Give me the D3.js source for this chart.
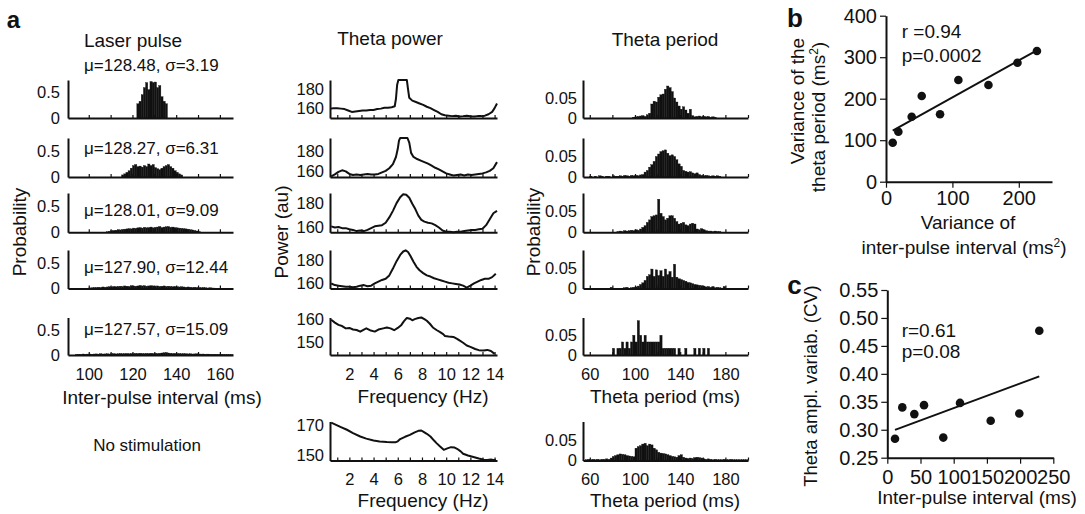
<!DOCTYPE html>
<html><head><meta charset="utf-8">
<script src="https://cdn.jsdelivr.net/npm/d3@7"></script>
<style>
body{margin:0;background:#fff;}
text{font-family:"Liberation Sans",Arial,sans-serif;fill:#111;}
</style></head><body>
<svg id="c" width="1085" height="514"></svg>
<script>
// ---------------- DATA ----------------
// Laser pulse inter-pulse-interval histograms (1 ms bins)
const laserStarts = [122, 115, 108, 100, 94];
const laser1 = [0.28,0.33,0.46,0.6,0.7,0.56,0.72,0.7,0.71,0.6,0.64,0.42,0.33,0.28];
const laser2 = [0.04,0.06,0.09,0.12,0.17,0.22,0.24,0.2,0.21,0.19,0.22,0.2,0.25,0.22,0.24,0.18,0.16,0.14,0.17,0.2,0.22,0.24,0.2,0.17,0.12,0.09,0.06,0.04];
const laser3 = [0.01,0.02,0.03,0.035,0.04,0.05,0.045,0.055,0.06,0.065,0.07,0.065,0.08,0.075,0.085,0.09,0.08,0.095,0.085,0.09,0.1,0.085,0.095,0.1,0.11,0.09,0.1,0.105,0.11,0.095,0.1,0.09,0.085,0.08,0.075,0.07,0.065,0.06,0.05,0.045,0.035,0.025,0.015];
const laser4 = [0.01,0.015,0.02,0.02,0.025,0.02,0.03,0.025,0.03,0.035,0.03,0.04,0.035,0.04,0.045,0.04,0.05,0.045,0.04,0.055,0.05,0.045,0.05,0.06,0.05,0.055,0.045,0.05,0.055,0.05,0.045,0.05,0.04,0.045,0.05,0.04,0.045,0.04,0.035,0.04,0.035,0.03,0.035,0.03,0.025,0.03,0.025,0.02,0.025,0.02,0.02,0.015,0.02,0.015,0.01,0.015,0.01,0.008];
const laser5 = [0.01,0.015,0.012,0.02,0.015,0.018,0.02,0.015,0.02,0.022,0.018,0.025,0.02,0.022,0.025,0.02,0.025,0.028,0.022,0.025,0.03,0.025,0.028,0.03,0.025,0.03,0.028,0.032,0.03,0.035,0.03,0.028,0.032,0.03,0.035,0.03,0.033,0.03,0.035,0.04,0.045,0.05,0.04,0.035,0.03,0.032,0.028,0.03,0.025,0.028,0.025,0.022,0.025,0.02,0.022,0.025,0.02,0.018,0.02,0.015,0.018,0.015,0.012,0.015,0.012,0.01,0.012,0.01,0.008,0.01,0.008,0.006];
const laserLabels = ["μ=128.48, σ=3.19","μ=128.27, σ=6.31","μ=128.01, σ=9.09","μ=127.90, σ=12.44","μ=127.57, σ=15.09"];

// Theta power spectra [frequency Hz, power au]
const power1 = [[0.4,159.5],[0.7,160],[1.0,160],[1.3,159.5],[1.6,159],[1.9,157.5],[2.2,156],[2.5,156.5],[2.8,157],[3.1,157.5],[3.4,157.5],[3.7,158],[4.0,158],[4.3,159],[4.6,159.5],[4.9,160.5],[5.2,160.5],[5.5,161],[5.75,162],[5.85,170],[5.95,185],[6.05,200],[6.75,200],[6.85,180],[6.95,171],[7.2,168],[7.5,166.5],[7.8,165],[8.1,163.5],[8.4,161.5],[8.7,160],[9.0,158],[9.3,156],[9.6,153.5],[9.9,152.5],[10.2,152],[10.5,151.5],[10.8,151.8],[11.1,151.2],[11.4,151.5],[11.7,152],[12.0,151.3],[12.3,151],[12.6,151.5],[12.9,151.5],[13.2,152],[13.5,153.5],[13.8,156],[14.0,160],[14.2,165]];
const power2 = [[0.5,155],[0.8,157],[1.1,159.5],[1.4,161],[1.7,160],[2.0,157.5],[2.3,156.5],[2.6,157],[2.9,156.5],[3.2,157],[3.5,157.5],[3.8,157],[4.1,157],[4.4,157.5],[4.7,159],[5.0,160.5],[5.3,163],[5.6,167],[5.85,174],[6.0,182],[6.1,190],[6.2,200],[6.8,200],[6.95,188],[7.1,178],[7.3,174],[7.6,172],[7.9,170.5],[8.2,169],[8.5,167.5],[8.8,165.5],[9.1,163.5],[9.4,162],[9.7,160],[10.0,158],[10.3,157],[10.6,156],[10.9,156.5],[11.2,157],[11.5,156],[11.8,157],[12.1,156.5],[12.4,157],[12.7,157.5],[13.0,158],[13.3,159],[13.6,160.5],[13.9,163],[14.2,169]];
const power3 = [[0.5,161],[0.8,160],[1.1,160.5],[1.4,159.5],[1.7,159.5],[2.0,158.5],[2.3,158],[2.6,157],[2.9,157.5],[3.2,157],[3.5,158],[3.8,159.5],[4.1,161],[4.4,161.5],[4.7,162],[5.0,164],[5.3,168.5],[5.6,174],[5.9,180.5],[6.2,185.5],[6.45,188],[6.7,187.5],[6.95,185],[7.2,180],[7.45,175.5],[7.7,170],[7.95,166.5],[8.2,165],[8.5,164],[8.8,163.5],[9.1,162],[9.4,160],[9.7,157.5],[10.0,156.5],[10.3,156.5],[10.6,156],[10.9,156.5],[11.2,156.5],[11.5,157],[11.8,157.5],[12.1,158],[12.4,158],[12.7,158.5],[13.0,159],[13.3,162],[13.6,167],[13.9,172],[14.2,174]];
const power4 = [[0.5,159.4],[0.8,158],[1.1,157.5],[1.4,157],[1.7,156.5],[2.0,156.5],[2.3,156],[2.6,156.5],[2.9,157.5],[3.2,158],[3.5,157],[3.8,157.5],[4.1,159.5],[4.4,161],[4.7,162.5],[5.0,163.5],[5.3,166.5],[5.6,172.5],[5.9,179],[6.2,184.5],[6.45,187.5],[6.65,188.5],[6.85,187],[7.05,183.5],[7.3,178.5],[7.55,174],[7.8,171],[8.1,168.5],[8.4,166.5],[8.7,165.5],[9.0,164],[9.3,163],[9.6,162],[9.9,161],[10.2,160],[10.5,159.5],[10.8,159],[11.1,158.5],[11.4,157.5],[11.7,155.8],[12.0,157.5],[12.3,159.5],[12.6,161],[12.9,162.5],[13.2,163.5],[13.5,163.5],[13.8,165],[14.1,168]];
const power5 = [[0.5,159.7],[0.8,158.5],[1.1,157.5],[1.4,157],[1.7,156],[2.0,156.2],[2.3,155.5],[2.6,155.3],[2.9,154.6],[3.2,155.5],[3.4,156],[3.7,155.2],[4.1,154.6],[4.4,155.5],[4.8,156],[5.1,156.4],[5.4,156],[5.7,155.2],[6.0,156.2],[6.3,157.5],[6.5,159],[6.75,160.5],[7.0,160.2],[7.2,159.5],[7.4,160],[7.7,160.5],[7.95,160.7],[8.2,160],[8.4,159.3],[8.65,158],[8.9,156.4],[9.2,155.3],[9.5,154.4],[9.75,153.5],[9.9,152.7],[10.2,152.5],[10.6,152.3],[10.9,151.5],[11.1,150.8],[11.4,149.8],[11.7,148.6],[12.0,148],[12.4,147.1],[12.7,146.6],[13.1,146.4],[13.4,146.7],[13.7,146.2],[14.0,145]];
const power6 = [[0.5,171.5],[0.9,170],[1.3,168.5],[1.8,166.7],[2.3,164.5],[2.9,162.2],[3.4,160.8],[4.0,159.5],[4.5,158.8],[5.1,158.5],[5.5,158.4],[5.8,158.3],[6.0,159],[6.2,160.5],[6.6,162],[7.0,163.3],[7.4,165],[7.7,166],[7.95,166.2],[8.1,165.5],[8.4,164],[8.7,162.2],[9.0,159.5],[9.2,157.8],[9.5,155.5],[9.8,153.3],[10.1,154.3],[10.4,155.1],[10.7,154.8],[10.9,154],[11.2,152.3],[11.4,150.7],[11.8,149.5],[12.25,148.5],[12.7,147.5],[13.1,146.7],[13.4,146.5],[13.7,146.8],[13.9,146.6],[14.1,146.5]];
const powerDomains = [[149.5,190],[154.5,192.5],[156,189],[155,188.8],[144.5,160.7],[146.2,172.2]];
const powerTicks = [[160,180],[160,180],[160,180],[160,180],[150,160],[150,170]];

// Theta period histograms (2 ms bins)
const periodStarts = [98, 60, 84, 76, 80, 56];
const period1 = [0.002,0.003,0.004,0.005,0.006,0.004,0.008,0.012,0.035,0.042,0.04,0.052,0.058,0.06,0.072,0.08,0.076,0.066,0.05,0.04,0.03,0.022,0.028,0.02,0.012,0.022,0.006,0.003,0.004,0.005,0.003,0.004,0.003,0.004,0.002,0.003,0.002];
const period2 = [0.002,0,0.002,0,0.003,0.002,0,0.002,0.002,0,0.003,0.002,0.002,0.003,0.002,0.004,0.003,0.002,0.004,0.003,0.004,0.003,0.005,0.006,0.012,0.016,0.024,0.03,0.038,0.05,0.056,0.062,0.064,0.066,0.058,0.052,0.054,0.05,0.042,0.032,0.026,0.016,0.014,0.012,0.013,0.01,0.008,0.01,0.006,0.004,0.003,0.004,0.003,0.002,0.003,0.002,0.003,0.002];
const period3 = [0.002,0.003,0.002,0.004,0.003,0.004,0.005,0.004,0.006,0.005,0.008,0.012,0.016,0.024,0.03,0.038,0.04,0.042,0.08,0.046,0.038,0.03,0.034,0.04,0.04,0.034,0.026,0.02,0.022,0.024,0.018,0.016,0.02,0.022,0.02,0.008,0.006,0.009,0.006,0.004,0.003,0.003,0.002,0.003,0.002,0.002];
const period4 = [0,0.003,0,0,0,0,0,0.002,0.003,0,0.002,0.003,0.004,0.006,0.01,0.014,0.02,0.03,0.034,0.048,0.03,0.046,0.032,0.044,0.03,0.048,0.034,0.042,0.028,0.06,0.028,0.024,0.022,0.02,0.018,0.015,0.014,0.012,0.01,0.009,0.008,0.007,0.006,0.004,0.005,0.003,0.005,0.002,0.003,0.002,0.001,0.005];
const period5 = [0.017,0,0.017,0.017,0.033,0.017,0.033,0.017,0.033,0.05,0.033,0.087,0.05,0.033,0.05,0.033,0.033,0.033,0.033,0.033,0.033,0.05,0.017,0.017,0.017,0.017,0.017,0.017,0,0.017,0,0,0.017,0,0,0,0.017,0,0.017,0,0.017,0,0.017];
const period6 = [0.002,0.003,0.002,0.003,0.002,0.003,0.002,0.003,0.003,0.004,0.003,0.006,0.01,0.012,0.014,0.016,0.015,0.014,0.012,0.011,0.01,0.009,0.03,0.034,0.036,0.04,0.042,0.036,0.04,0.038,0.03,0.026,0.02,0.018,0.017,0.016,0.014,0.012,0.01,0.009,0.008,0.012,0.014,0.008,0.006,0.005,0.006,0.005,0.007,0.008,0.007,0.006,0.004,0.003,0.004,0.003,0.002,0.003,0.002,0.002,0.002,0.003,0.002,0.002,0.003,0.002,0.002,0.002,0.002,0.002,0.002,0.002];

// Panel b and c scatter data
const bX = [10.1, 18.6, 38.7, 53.8, 81.4, 109, 154.3, 198, 227.3];
const bY = [94, 120.5, 156.6, 206.5, 162.4, 245, 233, 286.7, 315];
const cX = [11.6, 22.6, 40.7, 55.3, 84.3, 109.5, 155.7, 198.8, 228.9];
const cY = [0.284, 0.34, 0.328, 0.344, 0.286, 0.348, 0.316, 0.329, 0.477];
const bTicksX = [0, 100, 200], bTicksY = [0, 100, 200, 300, 400];
const cTicksX = [0, 50, 100, 150, 200, 250], cTicksY = [0.25, 0.30, 0.35, 0.40, 0.45, 0.50, 0.55];

// ---------------- DRAWING ----------------
const svg = d3.select('#c');
const INK = '#111';
const FONT_TICK = '16.5px';
const rows = [{top:80,base:118},{top:138,base:177},{top:193,base:232.3},{top:250,base:288.5},{top:317.5,base:355},{top:421.5,base:460.5}];

function styleAxis(g, fs){
  g.select('.domain').attr('stroke', INK).attr('stroke-width', 2);
  g.selectAll('.tick line').attr('stroke', INK).attr('stroke-width', 1.2);
  g.selectAll('.tick text').style('font-size', fs).attr('fill', INK)
   .style('font-family','"Liberation Sans",Arial,sans-serif');
}

function smallPanel(cfg){
  const x = d3.scaleLinear().domain(cfg.xd).range([cfg.left, cfg.right]);
  const y = d3.scaleLinear().domain(cfg.yd).range([cfg.base, cfg.top]).clamp(true);
  const g = svg.append('g');
  return {x, y, g, cfg};
}
function panelAxes(p){
  const c = p.cfg;
  const xa = d3.axisBottom(p.x).tickValues(c.xt).tickSize(-3).tickSizeOuter(0).tickPadding(13)
    .tickFormat(d => (c.showX && c.xl.includes(d)) ? d : '');
  const gx = p.g.append('g').attr('transform', `translate(0,${c.base})`).call(xa);
  styleAxis(gx, FONT_TICK);
  const ya = d3.axisLeft(p.y).tickValues(c.yt).tickSize(0).tickSizeOuter(0).tickPadding(c.ypad)
    .tickFormat(d => String(d));
  const gy = p.g.append('g').attr('transform', `translate(${c.left},0)`).call(ya);
  styleAxis(gy, FONT_TICK);
}
function bars(p, start, w, vals){
  p.g.append('g').selectAll('rect').data(vals).join('rect')
    .attr('x', (d,i) => p.x(start + i*w))
    .attr('width', (d,i) => p.x(start + (i+1)*w) - p.x(start + i*w))
    .attr('y', d => p.y(d))
    .attr('height', d => p.y(0) - p.y(d))
    .attr('fill', INK).attr('stroke', INK).attr('stroke-width', 0.35);
}

// Column 1: laser pulse
const laserData = [laser1, laser2, laser3, laser4, laser5];
laserData.forEach((vals, i) => {
  const r = rows[i];
  const p = smallPanel({left:68, right:233, top:r.top, base:r.base, xd:[90.5,166], yd:[0,0.75],
    xt:d3.range(100,161,10), xl:[100,120,140,160], showX: i===4, yt:[0,0.5], ypad:8});
  bars(p, laserStarts[i], 1, vals);
  panelAxes(p);
  p.g.append('text').attr('x', 84).attr('y', [65,148.5,210.5,267.5,329][i]).attr('dy','0.35em')
    .style('font-size','17px').text(laserLabels[i]);
});

// Column 2: theta power
const powerData = [power1, power2, power3, power4, power5, power6];
powerData.forEach((pts, i) => {
  const r = rows[i];
  const p = smallPanel({left:330, right:497, top:r.top, base:r.base, xd:[0.4,14.2], yd:powerDomains[i],
    xt:d3.range(1,15,1), xl:[2,4,6,8,10,12,14], showX: i>=4, yt:powerTicks[i], ypad:6});
  const line = d3.line().x(d => p.x(d[0])).y(d => p.y(d[1])).curve(d3.curveLinear);
  p.g.append('path').datum(pts).attr('d', line).attr('fill','none').attr('stroke', INK)
    .attr('stroke-width', 2).attr('stroke-linejoin','round');
  panelAxes(p);
});

// Column 3: theta period
const periodData = [period1, period2, period3, period4, period5, period6];
periodData.forEach((vals, i) => {
  const r = rows[i];
  const p = smallPanel({left:583, right:748, top:r.top, base:r.base, xd:[54,200], yd:[0,0.095],
    xt:d3.range(60,201,20), xl:[60,100,140,180], showX: i>=4, yt:[0,0.05], ypad:6});
  bars(p, periodStarts[i], 2, vals);
  panelAxes(p);
});

// Column titles and axis labels
function label(x, y, txt, size, opts={}){
  const t = svg.append('text').attr('x', x).attr('y', y).attr('dy','0.35em')
    .attr('text-anchor', opts.anchor || 'middle').style('font-size', size);
  if (opts.rotate) t.attr('transform', `rotate(-90,${x},${y})`);
  if (opts.bold) t.style('font-weight','bold');
  t.text(txt);
  return t;
}
label(13.5, 20, 'a', '24px', {bold:true});
label(133, 40, 'Laser pulse', '19px');
label(390, 38, 'Theta power', '19px');
label(665, 39, 'Theta period', '19px');
label(19, 232, 'Probability', '19px', {rotate:true});
label(281, 232, 'Power (au)', '19px', {rotate:true});
label(533, 232, 'Probability', '19px', {rotate:true});
label(162, 397, 'Inter-pulse interval (ms)', '19px');
label(423, 396, 'Frequency (Hz)', '19px');
label(665, 396, 'Theta period (ms)', '19px');
label(423, 500, 'Frequency (Hz)', '19px');
label(665, 500, 'Theta period (ms)', '19px');
label(147, 445, 'No stimulation', '17px');

// Scatter panels
function fit(xs, ys){
  const mx = d3.mean(xs), my = d3.mean(ys);
  const sxy = d3.sum(xs.map((v,i) => (v-mx)*(ys[i]-my)));
  const sxx = d3.sum(xs.map(v => (v-mx)*(v-mx)));
  const m = sxy/sxx; return {m, b: my - m*mx};
}
function scatter(cfg){
  const x = d3.scaleLinear().domain(cfg.xd).range([cfg.left, cfg.right]);
  const y = d3.scaleLinear().domain(cfg.yd).range([cfg.bottom, cfg.top]);
  const g = svg.append('g');
  const gx = g.append('g').attr('transform', `translate(0,${cfg.bottom})`)
    .call(d3.axisBottom(x).tickValues(cfg.xt).tickSize(6).tickSizeOuter(0).tickPadding(cfg.xpad).tickFormat(cfg.xf || (d=>d)));
  styleAxis(gx, '20px');
  const gy = g.append('g').attr('transform', `translate(${cfg.left},0)`)
    .call(d3.axisLeft(y).tickValues(cfg.yt).tickSize(6).tickSizeOuter(0).tickPadding(3).tickFormat(cfg.yf || (d=>d)));
  styleAxis(gy, '20px');
  const f = fit(cfg.xs, cfg.ys);
  const ex = d3.extent(cfg.xs);
  g.append('line').attr('x1', x(ex[0])).attr('y1', y(f.m*ex[0]+f.b))
    .attr('x2', x(ex[1])).attr('y2', y(f.m*ex[1]+f.b)).attr('stroke', INK).attr('stroke-width', 2);
  g.selectAll('circle').data(cfg.xs).join('circle')
    .attr('cx', d => x(d)).attr('cy', (d,i) => y(cfg.ys[i])).attr('r', 4.3).attr('fill', INK);
}
scatter({left:886, right:1052, top:15.7, bottom:181.7, xd:[0,250], yd:[0,400], xt:bTicksX, yt:bTicksY, xpad:3, xs:bX, ys:bY});
scatter({left:887.3, right:1053.3, top:290, bottom:457.7, xd:[0,250], yd:[0.25,0.55], xt:cTicksX, yt:cTicksY, xpad:6,
  yf:d3.format('.2f'), xs:cX, ys:cY});

label(795, 18, 'b', '26px', {bold:true});
label(794.5, 285, 'c', '26px', {bold:true});
label(901.7, 31.7, 'r =0.94', '19px', {anchor:'start'});
label(901.7, 55, 'p=0.0002', '19px', {anchor:'start'});
label(901.7, 330, 'r=0.61', '19px', {anchor:'start'});
label(901.7, 351.7, 'p=0.08', '19px', {anchor:'start'});
label(797, 101, 'Variance of the', '19px', {rotate:true});
const t2 = label(818, 117, 'theta period (ms', '19px', {rotate:true});
t2.append('tspan').attr('dy', -7).style('font-size','12px').text('2');
t2.append('tspan').attr('dy', 7).text(')');
label(968, 222, 'Variance of', '19px');
const t3 = label(964, 247, 'inter-pulse interval (ms', '19px');
t3.append('tspan').attr('dy', -7).style('font-size','12px').text('2');
t3.append('tspan').attr('dy', 7).text(')');
label(811, 386, 'Theta ampl. variab. (CV)', '18.5px', {rotate:true});
label(977, 497, 'Inter-pulse interval (ms)', '19px');
</script>
</body></html>
